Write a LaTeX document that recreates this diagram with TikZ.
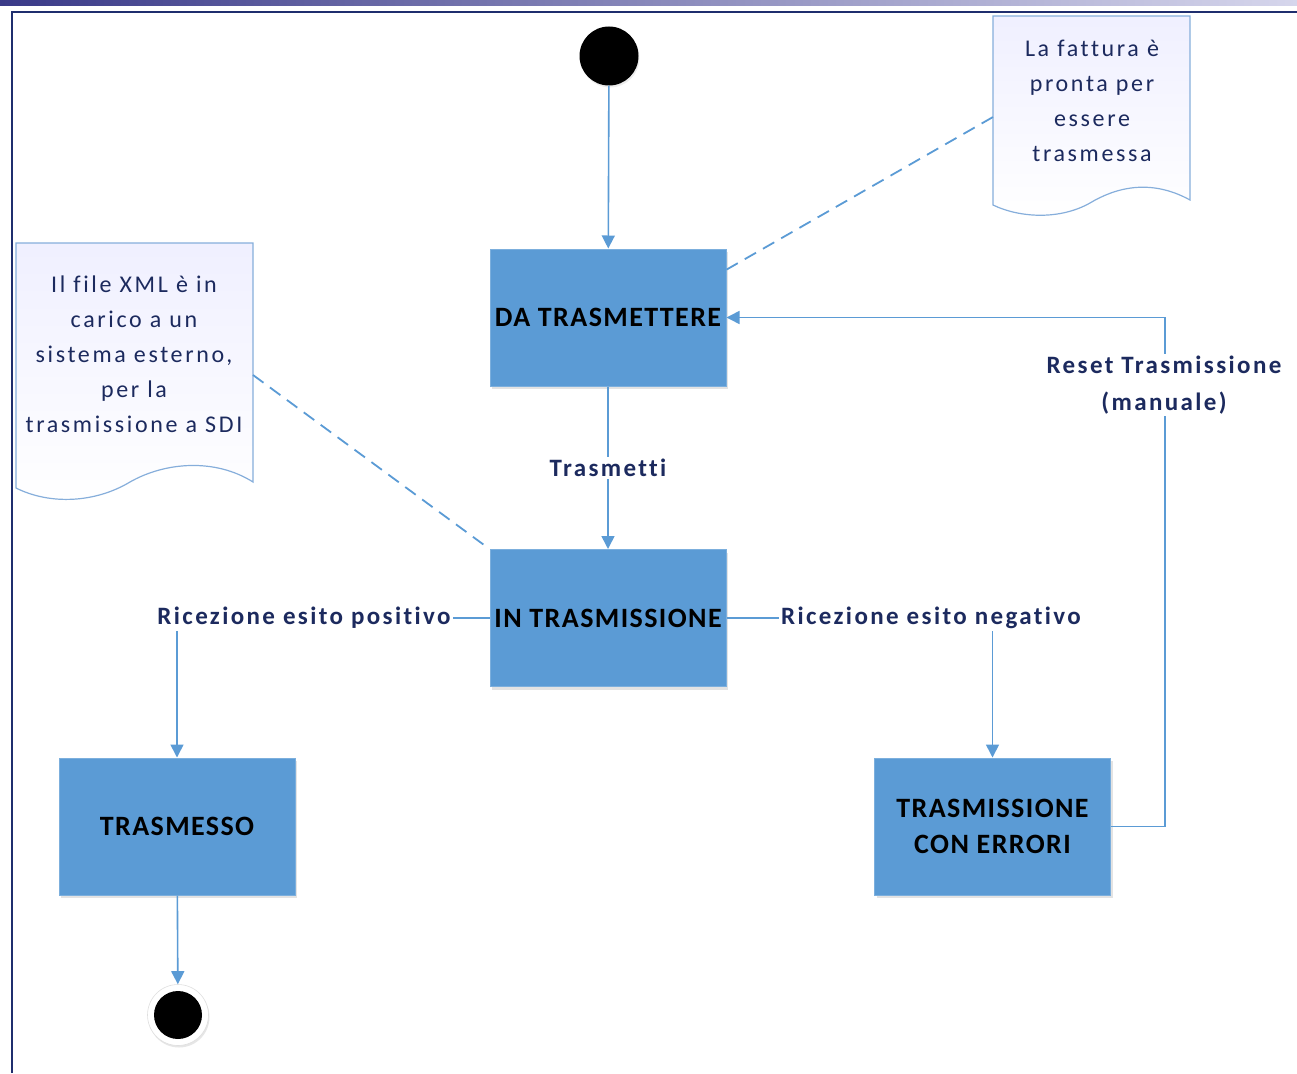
\documentclass[tikz,border=0pt]{standalone}
\usepackage{fontspec}
\setmainfont{Carlito}[Ligatures=NoCommon]
\usetikzlibrary{arrows.meta,shadows}
\definecolor{boxblue}{HTML}{5B9BD5}
\definecolor{linkblue}{HTML}{5B9BD5}
\definecolor{navy}{HTML}{1C2A5E}
\definecolor{framecol}{HTML}{1F2E6E}
\definecolor{notebd}{HTML}{86AEDB}
\definecolor{barleft}{HTML}{3A3A88}
\definecolor{barright}{HTML}{D6D6EC}
\begin{document}
\begin{tikzpicture}[x=1pt,y=-1pt,
  state/.style={rectangle, fill=boxblue, draw=boxblue!80!white, line width=1pt,
    minimum width=236pt, minimum height=137pt, inner sep=2pt,
    font=\fontsize{28}{36}\selectfont\bfseries\addfontfeatures{LetterSpace=5}, text=black, align=center,
    drop shadow={shadow xshift=2pt, shadow yshift=-3pt, opacity=0.22, fill=gray}},
  conn/.style={draw=linkblue, line width=1.6pt, -{Triangle[length=13pt,width=13pt]}},
  dashconn/.style={draw=linkblue, line width=1.8pt, dash pattern=on 13pt off 8pt},
  lbl/.style={font=\fontsize{25}{37}\selectfont\bfseries\addfontfeatures{LetterSpace=9.5}, text=navy, fill=white, inner sep=2pt, align=center},
  notetxt/.style={font=\fontsize{24}{35}\selectfont\addfontfeatures{LetterSpace=11}, text=navy, align=center, inner sep=0pt},
  notebox/.style={draw=notebd, line width=1.2pt, top color=blue!6!white, bottom color=white}
]
\useasboundingbox (0,0) rectangle (1297,1073);
% top bar and frame
\shade[left color=barleft, right color=barright] (0,0) rectangle (1297,6);
\draw[framecol, line width=2.5pt] (12,1073) -- (12,12) -- (1297,12);

% notes
\path[notebox] (993,16) -- (1190,16) -- (1190,200)
  .. controls (1150,178) and (1115,188) .. (1090,203)
  .. controls (1060,220) and (1020,218) .. (993,205) -- cycle;
\node[notetxt] (note1) at (1092,101) {La fattura è\\pronta per\\essere\\trasmessa};
\path[notebox] (16,243) -- (253,243) -- (253,482)
  .. controls (215,458) and (165,462) .. (130,482)
  .. controls (95,503) and (50,505) .. (16,488) -- cycle;
\node[notetxt] (note2) at (134,354) {Il file XML è in\\carico a un\\sistema esterno,\\per la\\trasmissione a SDI};
\coordinate (n1a) at (993,117);
\coordinate (n2a) at (253,375);

% states
\node[state] (da) at (608,317.5) {DA TRASMETTERE};
\node[state] (in) at (608,618) {IN TRASMISSIONE};
\node[state] (tr) at (177,826.5) {TRASMESSO};
\node[state] (tce) at (992.5,826.5) {TRASMISSIONE\\CON ERRORI};

% start / end
\node[circle, fill=black, minimum size=59pt, inner sep=0pt,
  drop shadow={shadow xshift=1pt, shadow yshift=-2pt, opacity=0.15, fill=gray}] (start) at (609,56) {};
\node[circle, fill=white, draw=gray!25, line width=0.6pt, minimum size=61pt, inner sep=0pt,
  drop shadow={shadow xshift=1pt, shadow yshift=-2pt, opacity=0.2, fill=gray}] (endo) at (178,1015) {};
\node[circle, fill=black, minimum size=48pt, inner sep=0pt] (endi) at (178,1015) {};

% connectors
\draw[conn] (start) -- (da);
\draw[conn] (da) -- (in) node[lbl, pos=0.5] (l1) {Trasmetti};
\draw[conn] (in.west) -| (tr.north);
\node[lbl] (l2) at (304,618) {Ricezione esito positivo};
\draw[conn] (in.east) -| (tce.north);
\node[lbl] (l3) at (931,618) {Ricezione esito negativo};
\draw[conn] (tce.east) -- ++(54,0) |- (da.east);
\node[lbl] (l4) at (1164,385) {Reset Trasmissione\\(manuale)};
\draw[conn] (tr) -- (endo);

% dashed note links
\draw[dashconn] (da.22) -- (n1a);
\draw[dashconn] (n2a) -- (in.north west);
\end{tikzpicture}
\end{document}
